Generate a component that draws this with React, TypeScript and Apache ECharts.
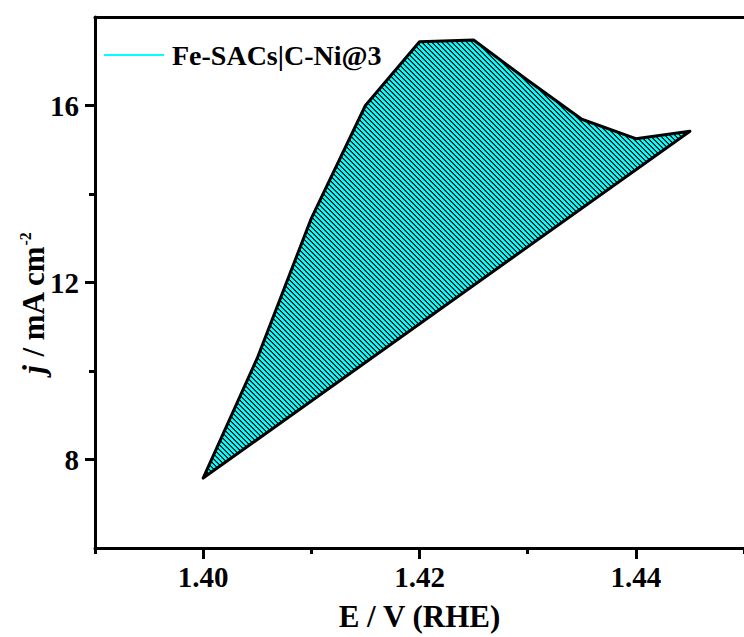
import React, { useEffect, useRef } from 'react';
import * as echarts from 'echarts';

const seriesName = 'Fe-SACs|C-Ni@3';
const potential = [1.4, 1.405, 1.41, 1.415, 1.42, 1.425, 1.43, 1.435, 1.44, 1.445];
const currentDensity = [7.58, 10.29, 13.45, 16.0, 17.44, 17.48, 16.57, 15.69, 15.25, 15.42];
const xMajorTicks = [1.4, 1.42, 1.44];
const xMinorTicks = [1.39, 1.41, 1.43, 1.45];
const yMajorTicks = [8, 12, 16];
const yMinorTicks = [10, 14];
const xRange = [1.39, 1.45];
const yRange = [6, 18];
const xTitle = 'E / V (RHE)';

const FONT = "'Liberation Serif', 'Times New Roman', serif";

function makeHatch(): HTMLCanvasElement {
  const s = 5;
  const c = document.createElement('canvas');
  c.width = s;
  c.height = s;
  const ctx = c.getContext('2d')!;
  const img = ctx.createImageData(s, s);
  for (let y = 0; y < s; y++) {
    for (let x = 0; x < s; x++) {
      const k = (((y - x) % s) + s) % s;
      const shade = k === 0 ? 0 : k === 1 ? 0.35 : 1;
      const i = (y * s + x) * 4;
      img.data[i] = 0;
      img.data[i + 1] = Math.round(255 * shade);
      img.data[i + 2] = Math.round(255 * shade);
      img.data[i + 3] = 255;
    }
  }
  ctx.putImageData(img, 0, 0);
  return c;
}

export default function App() {
  const ref = useRef<HTMLDivElement>(null);
  useEffect(() => {
    if (!ref.current) return;
    const chart = echarts.init(ref.current, undefined, { renderer: 'svg' });
    const hatch = makeHatch();
    const baseAxis = {
      type: 'value' as const,
      min: xRange[0],
      max: xRange[1],
      splitLine: { show: false },
    };
    const option: any = {
      animation: false,
      backgroundColor: '#ffffff',
      grid: { left: 95, top: 17, right: -8, bottom: 86, containLabel: false },
      legend: {
        left: 104,
        top: 41,
        padding: 0,
        itemWidth: 60,
        itemHeight: 2,
        selectedMode: false,
        textStyle: { fontFamily: FONT, fontWeight: 'bold', fontSize: 28, color: '#000', padding: [0, 0, 0, 3] },
        data: [{ name: seriesName, icon: 'rect', itemStyle: { color: '#00FFFF', borderWidth: 0 } }],
      },
      xAxis: [
        {
          ...baseAxis,
          position: 'bottom',
          name: xTitle,
          nameLocation: 'middle',
          nameGap: 53,
          nameTextStyle: { fontFamily: FONT, fontWeight: 'bold', fontSize: 31, color: '#000' },
          axisLine: { show: true, onZero: false, lineStyle: { color: '#000', width: 3 } },
          axisTick: { show: true, inside: false, length: 11, customValues: xMajorTicks, lineStyle: { color: '#000', width: 3 } },
          axisLabel: {
            show: true,
            margin: 14,
            customValues: xMajorTicks,
            formatter: (v: number) => v.toFixed(2),
            fontFamily: FONT,
            fontWeight: 'bold',
            fontSize: 29,
            color: '#000',
          },
        },
        {
          ...baseAxis,
          position: 'bottom',
          axisLine: { show: false, onZero: false },
          axisTick: { show: true, inside: false, length: 6, customValues: xMinorTicks, lineStyle: { color: '#000', width: 3 } },
          axisLabel: { show: false },
        },
        {
          ...baseAxis,
          position: 'top',
          axisLine: { show: true, onZero: false, lineStyle: { color: '#000', width: 3 } },
          axisTick: { show: false },
          axisLabel: { show: false },
        },
      ],
      yAxis: [
        {
          type: 'value',
          min: yRange[0],
          max: yRange[1],
          position: 'left',
          splitLine: { show: false },
          axisLine: { show: true, onZero: false, lineStyle: { color: '#000', width: 3 } },
          axisTick: { show: true, inside: false, length: 10, customValues: yMajorTicks, lineStyle: { color: '#000', width: 3 } },
          axisLabel: {
            show: true,
            margin: 16,
            customValues: yMajorTicks,
            formatter: (v: number) => String(v),
            fontFamily: FONT,
            fontWeight: 'bold',
            fontSize: 29,
            color: '#000',
          },
        },
        {
          type: 'value',
          min: yRange[0],
          max: yRange[1],
          position: 'left',
          splitLine: { show: false },
          axisLine: { show: false, onZero: false },
          axisTick: { show: true, inside: false, length: 6, customValues: yMinorTicks, lineStyle: { color: '#000', width: 3 } },
          axisLabel: { show: false },
        },
      ],
      graphic: [
        {
          type: 'text',
          x: 33,
          y: 303,
          rotation: Math.PI / 2,
          style: {
            text: '{i|j}{n| / mA cm}{s|-2}',
            align: 'center',
            verticalAlign: 'middle',
            fill: '#000',
            rich: {
              i: { fontFamily: FONT, fontStyle: 'italic', fontWeight: 'bold', fontSize: 31, fill: '#000' },
              n: { fontFamily: FONT, fontWeight: 'bold', fontSize: 31, fill: '#000' },
              s: { fontFamily: FONT, fontWeight: 'bold', fontSize: 16, fill: '#000', verticalAlign: 'top' },
            },
          },
        },
      ],
      series: [
        {
          type: 'custom',
          name: seriesName,
          xAxisIndex: 0,
          yAxisIndex: 0,
          itemStyle: { color: '#00FFFF' },
          data: potential.map((x, i) => [x, currentDensity[i]]),
          encode: { x: 0, y: 1 },
          renderItem: (params: any, api: any) => {
            if (params.dataIndex !== 0) return null;
            const pts = potential.map((x, i) => api.coord([x, currentDensity[i]]));
            return {
              type: 'polygon',
              shape: { points: pts },
              style: {
                fill: { image: hatch, repeat: 'repeat' },
                stroke: '#000',
                lineWidth: 3,
                lineJoin: 'round',
              },
            };
          },
        },
      ],
    };
    chart.setOption(option);
    return () => chart.dispose();
  }, []);
  return (
    <div
      ref={ref}
      style={{ position: 'absolute', left: 0, top: 0, width: 744, height: 637, background: '#fff' }}
    />
  );
}
